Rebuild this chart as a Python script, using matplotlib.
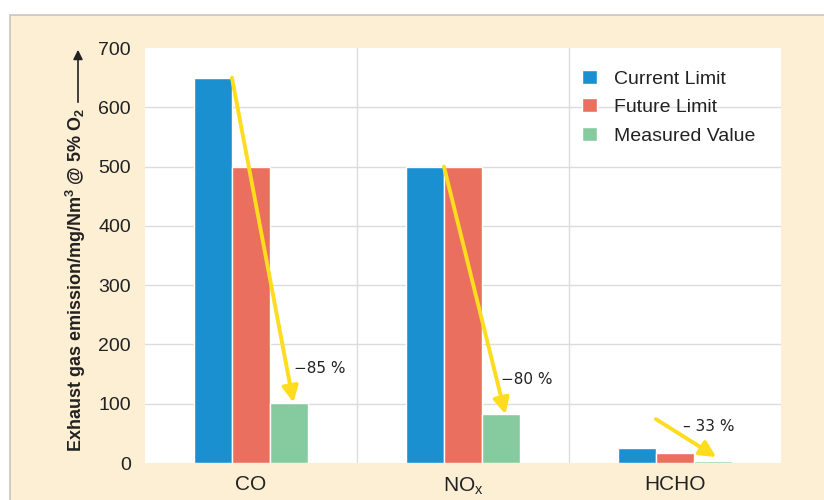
import matplotlib
matplotlib.use("Agg")
import matplotlib.pyplot as plt
from matplotlib.patches import Rectangle, FancyArrowPatch
import numpy as np

categories = ["CO", "NO$_\\mathregular{x}$", "HCHO"]
series_names = ["Current Limit", "Future Limit", "Measured Value"]
current_limit = [650, 500, 26]
future_limit = [500, 500, 17]
measured_value = [102, 82, 3]
reductions = ["\u221285 %", "\u221280 %", "\u2013 33 %"]
yticks = [0, 100, 200, 300, 400, 500, 600, 700]

colors = ["#1a90d0", "#ea6f5e", "#86cba0"]
cream = "#fdefd4"
txt = "#222222"
yellow = "#ffdc1e"

plt.rcParams["font.family"] = ["Liberation Sans", "DejaVu Sans"]

fig = plt.figure(figsize=(8.24, 5.0), dpi=100)
fig.patch.set_facecolor("white")
W, H = 824, 500
bg = Rectangle((10 / W, -0.1), 1.2, (H - 14.5) / H + 0.1,
               transform=fig.transFigure, facecolor=cream,
               edgecolor="#c9c6c0", lw=1.2, zorder=-10)
fig.patches.append(bg)

ax = fig.add_axes([145 / W, 1 - 463 / H, (781 - 145) / W, (463 - 48) / H])
ax.set_zorder(5)
ax.set_facecolor("white")
for s in ax.spines.values():
    s.set_visible(False)

x = np.arange(len(categories))
w = 0.18
data = [current_limit, future_limit, measured_value]
for i, (vals, name, c) in enumerate(zip(data, series_names, colors)):
    ax.bar(x + (i - 1) * w, vals, width=w, color=c, edgecolor="white",
           linewidth=1.0, label=name, zorder=2)

ax.set_xlim(-0.5, 2.5)
ax.set_ylim(0, 700)
ax.set_yticks(yticks)
ax.set_yticklabels([str(v) for v in yticks])
ax.set_xticks(x)
ax.set_xticklabels(categories)
ax.tick_params(axis="both", length=0, labelsize=14, colors=txt)
ax.tick_params(axis="y", pad=10)
ax.tick_params(axis="x", pad=9, labelsize=15)

for v in yticks[1:-1]:
    ax.axhline(v, color="#dcdcdc", lw=1.0, zorder=1)
for xv in [0.5, 1.5]:
    ax.axvline(xv, color="#dcdcdc", lw=1.0, zorder=1)

arrow_kw = dict(arrowstyle="-|>", mutation_scale=24, lw=2.8, color=yellow,
                shrinkA=0, shrinkB=0)
for i in [0, 1]:
    ax.annotate("", xy=(x[i] + w + 0.02, measured_value[i]),
                xytext=(x[i] - w / 2, current_limit[i]),
                arrowprops=arrow_kw, zorder=4)
ax.annotate("", xy=(x[2] + w + 0.015, measured_value[2] + 7),
            xytext=(x[2] - 0.09, measured_value[2] + 71),
            arrowprops=arrow_kw, zorder=4)

label_pos = [(x[0] + 0.205, 160), (x[1] + 0.18, 141), (x[2] + 0.04, 62)]
for (lx, ly), t in zip(label_pos, reductions):
    ax.text(lx, ly, t, fontsize=11, color=txt, va="center", ha="left",
            family=["DejaVu Sans"], zorder=5)

leg = ax.legend(loc="upper left", bbox_to_anchor=(0.66, 0.99), frameon=False,
                handlelength=0.75, handleheight=0.75, handletextpad=0.9,
                labelspacing=0.55, fontsize=14)
for t in leg.get_texts():
    t.set_color(txt)

fig.text(76 / W, 1 - 280 / H,
         "Exhaust gas emission/mg/Nm$^\\mathregular{3}$ @ 5% O$_\\mathregular{2}$",
         rotation=90, ha="center", va="center", fontsize=13, fontweight="bold", color=txt)
fig.patches.append(FancyArrowPatch(
    (78 / W, 1 - 105 / H), (78 / W, 1 - 47 / H), transform=fig.transFigure,
    arrowstyle="-|>", mutation_scale=14, lw=1.2, color=txt))

fig.savefig("out.png", dpi=100, facecolor=fig.get_facecolor())
